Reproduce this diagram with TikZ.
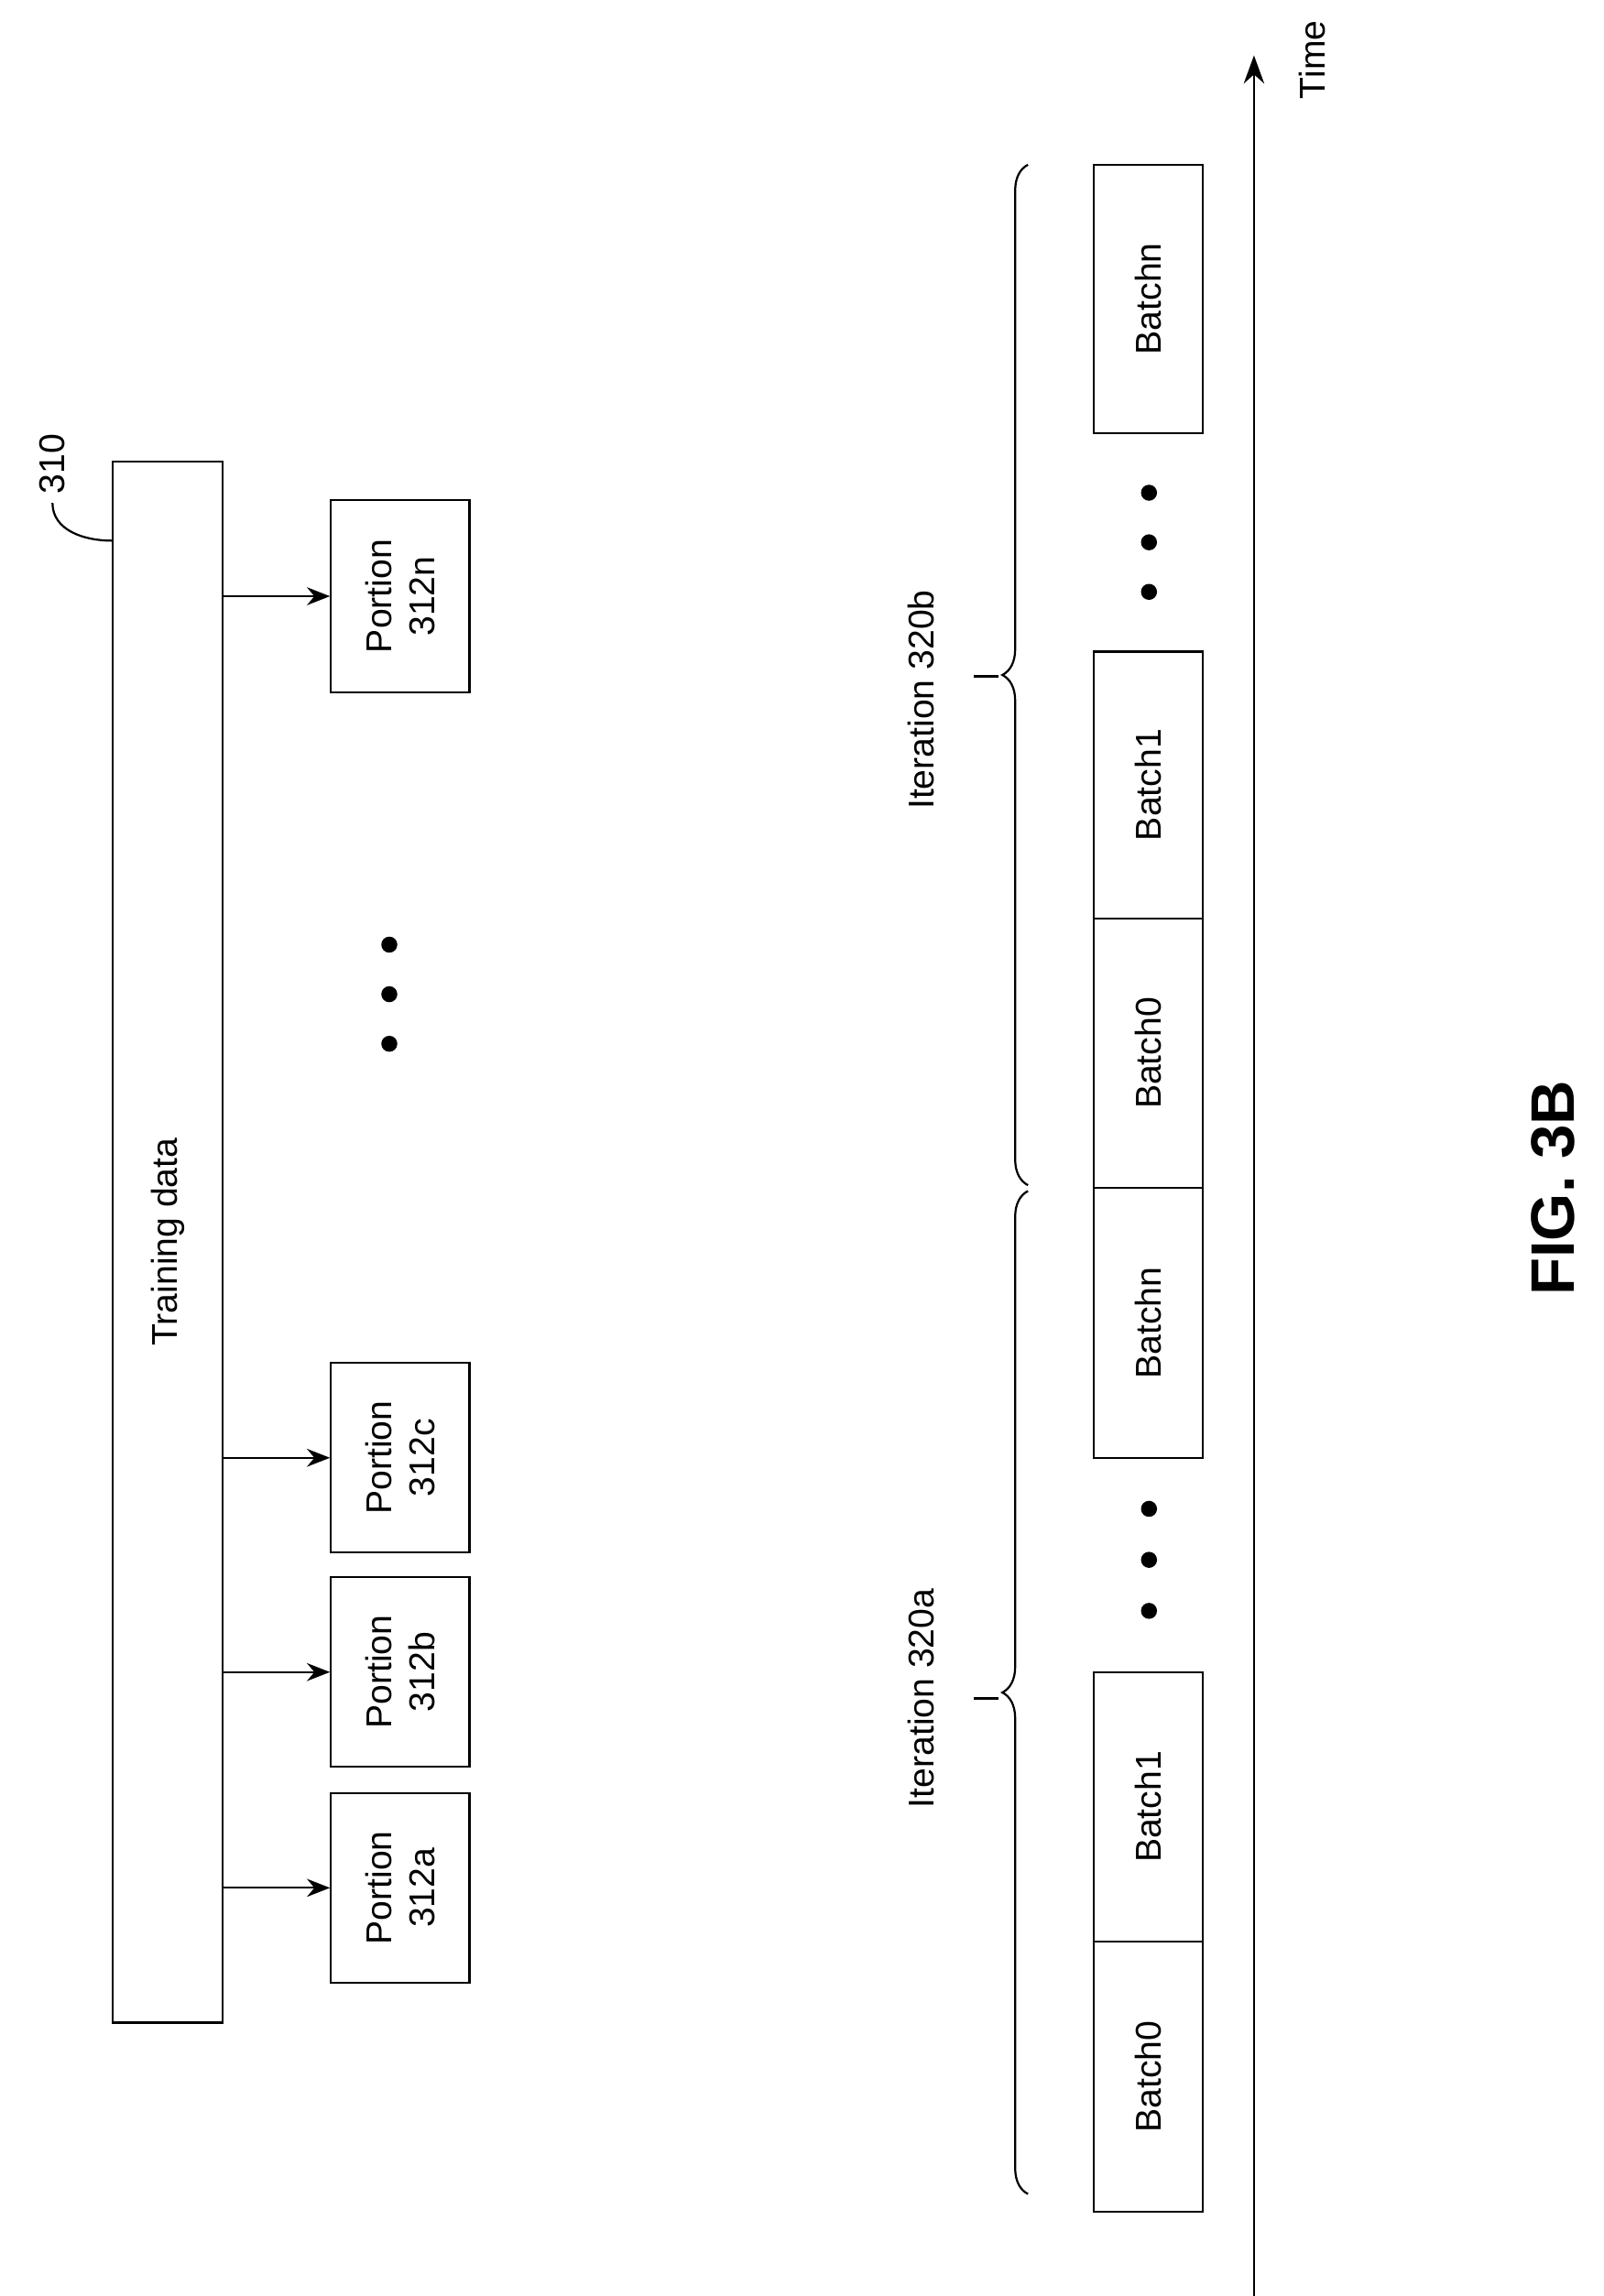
\documentclass[tikz,border=0pt]{standalone}
\usepackage{fontspec}
\setmainfont{Liberation Sans}
\usetikzlibrary{arrows.meta,decorations.pathreplacing}
\begin{document}
\begin{tikzpicture}[x=0.02cm,y=-0.02cm,font=\fontsize{14}{17}\selectfont,
	box/.style={draw,thick,minimum width=1.5cm,inner sep=0pt},
	feed/.style={thick,-{Stealth[length=9pt,width=7pt]}},
	brc/.style={thick,decorate,decoration={brace,amplitude=10pt}}]
	\useasboundingbox (0,0) rectangle (1100,1575);
	% training data and its portions
	\node[box,minimum height=21.42cm] (train) at (115,852) {};
	\node[rotate=90] at (train) {Training data};
	\foreach \n/\y/\h in {n/409/2.64cm,c/1000/2.6cm,b/1147/2.6cm,a/1295/2.6cm}{
		\node[box,minimum width=1.9cm,minimum height=\h] (p\n) at (274.5,\y) {};
		\node[align=center,rotate=90] at (p\n) {Portion\\312\n};
		\draw[feed] (train.east |- p\n) -- (p\n.west);}
	\foreach \y in {648,682,716} \fill (267,\y) circle (5.5);
	\draw[thick] (train.north west) ++(0,55) to[out=180,in=-90] (36,345) coordinate (ref);
	\node[rotate=90,anchor=west] at (ref) {310};
	% time axis
	\coordinate (tstart) at (860,1580);
	\coordinate (tend) at (860,38);
	\draw[thick,-{Stealth[length=11pt,width=8pt]}] (tstart) -- (tend);
	\node[rotate=90,anchor=east] at (900,8) {Time};
	% batches
	\foreach \nm/\lbl/\ya/\yb in {b0/Batch0/1332/1517,b1/Batch1/1147/1332,bn/Batchn/815/1000,
		c0/Batch0/630/815,c1/Batch1/447/630,cn/Batchn/113/297}{
		\draw[thick] (750,\ya) rectangle (825,\yb);
		\node[rotate=90] (\nm) at (787.5,{(\ya+\yb)/2}) {\lbl};}
	\foreach \y in {1035,1070,1105,338,372,406} \fill (788,\y) circle (5.5);
	% iterations
	\draw[brc] (705,1505) -- (705,817);
	\draw[brc] (705,813) -- (705,113);
	\draw[thick] (668,1165) -- (685,1165);
	\draw[thick] (668,464) -- (685,464);
	\node[rotate=90] (ita) at (632,1165) {Iteration 320a};
	\node[rotate=90] (itb) at (632,480) {Iteration 320b};
	\node[rotate=90,font=\fontsize{24}{28}\selectfont\bfseries] (fig) at (1065,815) {FIG. 3B};
\end{tikzpicture}
\end{document}
